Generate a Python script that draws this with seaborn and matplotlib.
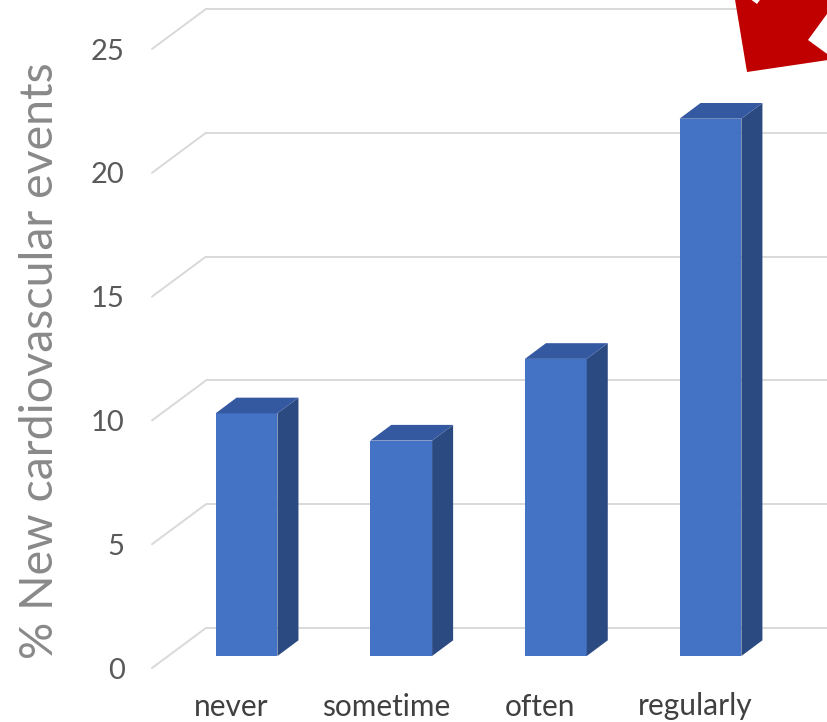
import matplotlib
matplotlib.use("Agg")
import matplotlib.pyplot as plt
from matplotlib.patches import Polygon
import seaborn as sns
import pandas as pd

# ---- data ----
categories = ["never", "sometime", "often", "regularly"]
values = [9.8, 8.7, 12.0, 21.7]
y_ticks = [0, 5, 10, 15, 20, 25]
y_label = "% New cardiovascular events"

FRONT = "#4472C4"
TOP = "#3559A0"
SIDE = "#2C4A82"
GRID = "#D9D9D9"

sns.set_theme(style="white")
plt.rcParams["font.family"] = ["Lato", "DejaVu Sans"]

W, H = 828, 722
fig = plt.figure(figsize=(W / 100, H / 100), dpi=100)
ax = fig.add_axes([140 / W, (H - 680) / H, 688 / W, 680 / H])

df = pd.DataFrame({"cat": categories, "val": values})
sns.barplot(data=df, x="cat", y="val", color=FRONT, saturation=1,
            width=0.4, ax=ax, zorder=3, linewidth=0)

# perspective offsets (data units): bar depth and wall/floor depth
bdx, bdy = 0.136, 0.634
back_dx, back_dy = -0.262, 1.131
front_dx, front_dy = -0.611, -0.485

xmax = 3.76
ax.set_xlim(-0.6886, xmax)
ax.set_ylim(-0.969, 26.494)

# gridlines: back wall horizontal + diagonal to front
for v in y_ticks:
    ax.plot([back_dx, xmax + 0.1], [v + back_dy, v + back_dy], color=GRID,
            lw=1.4, zorder=1, solid_capstyle="butt", clip_on=False)
    ax.plot([front_dx, back_dx], [v + front_dy, v + back_dy], color=GRID,
            lw=1.4, zorder=1, clip_on=False)

# 3D tops and sides derived from the seaborn bars
for p in list(ax.patches):
    x0 = p.get_x()
    w = p.get_width()
    h = p.get_height()
    x1 = x0 + w
    side = Polygon([(x1, 0), (x1 + bdx, bdy), (x1 + bdx, h + bdy), (x1, h)],
                   closed=True, facecolor=SIDE, edgecolor="none", zorder=3)
    top = Polygon([(x0, h), (x0 + bdx, h + bdy), (x1 + bdx, h + bdy), (x1, h)],
                  closed=True, facecolor=TOP, edgecolor="none", zorder=3)
    ax.add_patch(side)
    ax.add_patch(top)

# ticks
ax.set_yticks([v + front_dy for v in y_ticks])
ax.set_yticklabels([str(v) for v in y_ticks])
ax.set_xticks([i - 0.1 for i in range(len(categories))])
ax.set_xticklabels(categories)
ax.tick_params(axis="y", length=0, pad=11, labelsize=21, labelcolor="#595959")
ax.tick_params(axis="x", length=0, pad=9, labelsize=21.5, labelcolor="#404040")
ax.set_xlabel("")
ax.set_ylabel("")
for s in ax.spines.values():
    s.set_visible(False)
ax.grid(False)

fig.text(40 / W, 1 - 361 / H, y_label, rotation=90, ha="center", va="center",
         fontsize=33.5, color="#898989")

# red block arrow annotation (figure pixel coords)
arrow_px = [(747, 72), (732.8, -13.7), (757, 4), (815.9, -76.8),
            (866.9, -40.8), (808, 40), (834.2, 59.1)]
arrow = Polygon([(x / W, 1 - y / H) for x, y in arrow_px], closed=True,
                facecolor="#C00000", edgecolor="none",
                transform=fig.transFigure, zorder=10)
fig.patches.append(arrow)

fig.savefig("out.png", dpi=100)
